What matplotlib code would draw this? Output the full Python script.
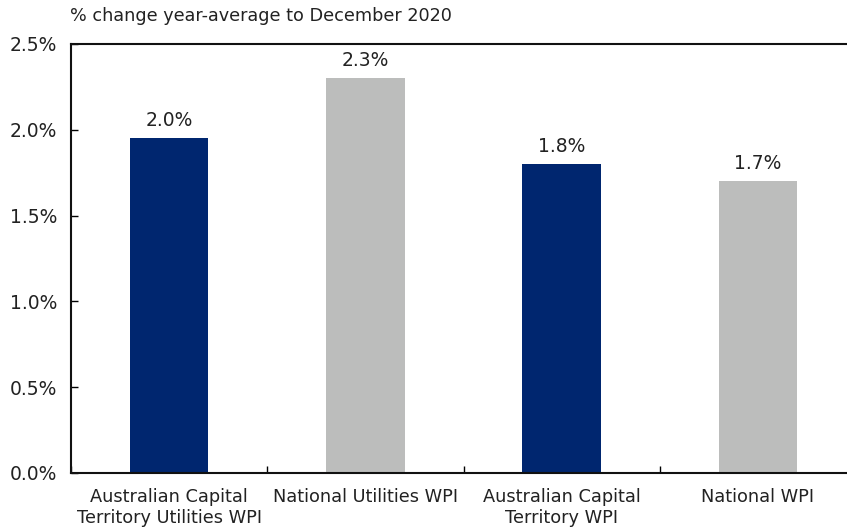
import matplotlib.pyplot as plt
import numpy as np

# ------------------------
# Data
# ------------------------
categories = ["Australian Capital\nTerritory Utilities WPI", "National Utilities WPI",
              "Australian Capital\nTerritory WPI", "National WPI"]
values = [1.95, 2.30, 1.80, 1.70]
labels = ["2.0%", "2.3%", "1.8%", "1.7%"]
colours = ["#00266F", "#BCBDBC", "#00266F", "#BCBDBC"]
yticks = [0.0, 0.5, 1.0, 1.5, 2.0, 2.5]

plt.rcParams['font.family'] = ['DejaVu Sans']

fig = plt.figure(figsize=(8.47, 5.28), dpi=100)
# axes run past the right edge like the original
ax = fig.add_axes([71 / 847, 1 - 473 / 528, (856 - 71) / 847, (473 - 44) / 528])

x = np.arange(len(categories))
ax.bar(x, values, width=0.4, color=colours)

for xi, v, lab in zip(x, values, labels):
    ax.annotate(lab, (xi, v), xytext=(0, 6), textcoords="offset points",
                ha="center", va="bottom", fontsize=13.5, color="#222222")

ax.set_xlim(-0.5, len(categories) - 0.5)
ax.set_ylim(0, 2.5)
ax.set_yticks(yticks)
ax.set_yticklabels([f"{t:.1f}%" for t in yticks], color="#222222")

# category ticks sit between the bars
ax.set_xticks(np.arange(len(categories) + 1) - 0.5)
ax.set_xticklabels([])
ax.set_xticks(x, minor=True)
ax.set_xticklabels(categories, minor=True, color="#222222")
ax.tick_params(axis="x", which="minor", length=0, pad=11, labelsize=12.8)
ax.tick_params(axis="x", which="major", direction="in", length=5, width=1)
ax.tick_params(axis="y", direction="in", length=5, width=1, pad=10, labelsize=13.5)

for s in ["left", "bottom", "top"]:
    ax.spines[s].set_linewidth(1.5)
    ax.spines[s].set_color("#111111")
ax.spines["right"].set_visible(False)

fig.text(70 / 847, 1 - 16 / 528, "% change year-average to December 2020",
         ha="left", va="center", fontsize=12.7, color="#222222")

fig.savefig("out.png", dpi=100)
